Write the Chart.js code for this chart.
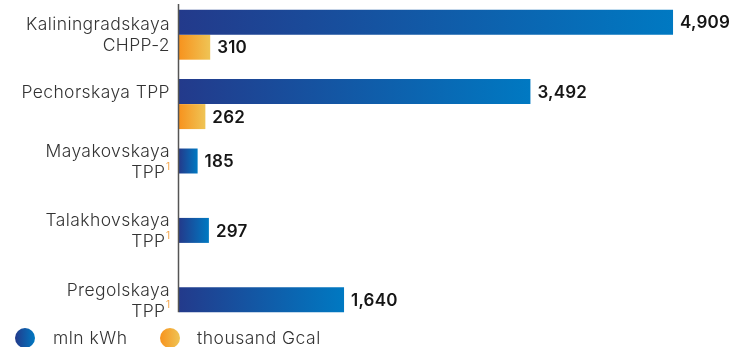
<!DOCTYPE html>
<html>
<head>
<meta charset="utf-8">
<script src="https://cdn.jsdelivr.net/npm/chart.js@4.4.0/dist/chart.umd.min.js"></script>
<style>
  html, body { margin: 0; padding: 0; background: #fff; overflow: hidden; }
  #wrap { width: 731px; height: 347px; position: relative; }
</style>
</head>
<body>
<div id="wrap"><canvas id="plantChart"></canvas></div>
<script>
// Data
const plants = [
  ['Kaliningradskaya', 'CHPP-2'],
  ['Pechorskaya TPP'],
  ['Mayakovskaya', 'TPP'],
  ['Talakhovskaya', 'TPP'],
  ['Pregolskaya', 'TPP']
];
const footnotes = ['', '', '1', '1', '1'];
const electricity = [4909, 3492, 185, 297, 1640];   // mln kWh
const heat = [310, 262, null, null, null];          // thousand Gcal
const seriesNames = ['mln kWh', 'thousand Gcal'];

const BLUE = ['#233a8b', '#0079c2'];
const ORANGE = ['#f7931e', '#efc455'];
const FONT = 'Inter, "Noto Sans", sans-serif';

// gradient along each bar, from the axis to the bar end
function barGradient(ctx, colors) {
  const chart = ctx.chart;
  const xs = chart.scales.x;
  if (!chart.chartArea || !xs || ctx.raw == null) return colors[0];
  const x0 = xs.getPixelForValue(0);
  const x1 = xs.getPixelForValue(ctx.raw);
  const g = chart.ctx.createLinearGradient(x0, 0, Math.max(x1, x0 + 1), 0);
  g.addColorStop(0, colors[0]);
  g.addColorStop(1, colors[1]);
  return g;
}

const labelsPlugin = {
  id: 'labelsPlugin',
  afterDatasetsDraw(chart) {
    const c = chart.ctx;
    const ys = chart.scales.y;
    const area = chart.chartArea;
    const blueMeta = chart.getDatasetMeta(0);

    // axis line
    c.save();
    c.strokeStyle = '#555';
    c.lineWidth = 1.5;
    c.beginPath();
    c.moveTo(area.left - 0.5, area.top + 4);
    c.lineTo(area.left - 0.5, ys.getPixelForValue(plants.length - 1));
    c.stroke();

    // value labels
    c.font = '600 17px ' + FONT;
    c.letterSpacing = '0.2px';
    c.fillStyle = '#151515';
    c.textAlign = 'left';
    c.textBaseline = 'middle';
    chart.data.datasets.forEach((ds, di) => {
      const meta = chart.getDatasetMeta(di);
      meta.data.forEach((bar, i) => {
        const v = ds.data[i];
        if (v == null) return;
        c.fillText(v.toLocaleString('en-US'), bar.x + 7, bar.y + 1);
      });
    });

    // category labels
    const right = area.left - 9;
    const lineH = 21;
    plants.forEach((lines, i) => {
      const both = heat[i] != null && lines.length > 1;
      const cy = both ? ys.getPixelForValue(i) : blueMeta.data[i].y;
      let y = cy - (lines.length - 1) * lineH / 2;
      lines.forEach((line, li) => {
        let r = right;
        if (li === lines.length - 1 && footnotes[i]) {
          c.font = '400 10px ' + FONT;
          c.letterSpacing = '0px';
          c.fillStyle = '#f5a54a';
          c.textAlign = 'right';
          c.fillText(footnotes[i], r, y - 5);
          r -= c.measureText(footnotes[i]).width + 0.5;
        }
        c.font = '300 17.5px ' + FONT;
        c.letterSpacing = '0.4px';
        c.fillStyle = '#333';
        c.textAlign = 'right';
        c.fillText(line, r, y + 1);
        y += lineH;
      });
    });

    // legend
    const ly = 338;
    const items = [[25, 53, BLUE], [170, 197, ORANGE]];
    items.forEach(([cx, tx, colors], k) => {
      const g = c.createLinearGradient(cx - 10, 0, cx + 10, 0);
      g.addColorStop(0, colors[0]);
      g.addColorStop(1, colors[1]);
      c.fillStyle = g;
      c.beginPath();
      c.arc(cx, ly, 10, 0, Math.PI * 2);
      c.fill();
      c.font = '300 17.5px ' + FONT;
      c.letterSpacing = '0.5px';
      c.fillStyle = '#333';
      c.textAlign = 'left';
      c.fillText(seriesNames[k], tx, ly + 1);
    });
    c.restore();
  }
};

new Chart(document.getElementById('plantChart'), {
  type: 'bar',
  data: {
    labels: plants.map(l => l.join(' ')),
    datasets: [
      {
        label: seriesNames[0],
        data: electricity,
        backgroundColor: ctx => barGradient(ctx, BLUE),
        categoryPercentage: 0.72,
        barPercentage: 1
      },
      {
        label: seriesNames[1],
        data: heat,
        backgroundColor: ctx => barGradient(ctx, ORANGE),
        categoryPercentage: 0.72,
        barPercentage: 1
      }
    ]
  },
  options: {
    indexAxis: 'y',
    responsive: true,
    maintainAspectRatio: false,
    animation: false,
    layout: { padding: { left: 179, right: 0, top: 0, bottom: 0 } },
    scales: {
      x: { display: false, min: 0, max: 5485 },
      y: { display: false }
    },
    plugins: {
      legend: { display: false },
      tooltip: { enabled: false }
    }
  },
  plugins: [labelsPlugin]
});
</script>
</body>
</html>
